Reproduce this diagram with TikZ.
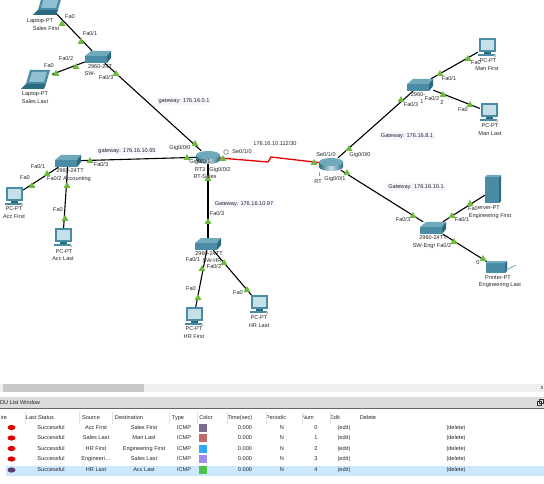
\documentclass[tikz,border=0pt]{standalone}
\usepackage{fontspec}
\setmainfont{Liberation Sans}
\usetikzlibrary{arrows.meta,calc}
\definecolor{tealtop}{HTML}{6FA9BC}
\definecolor{tealfront}{HTML}{4A8CA6}
\definecolor{tealside}{HTML}{2C6A80}
\definecolor{screenblue}{HTML}{C6E0E8}
\definecolor{lapscreen}{HTML}{8FBFD0}
\definecolor{lnkgreen}{HTML}{6DBB3E}
\definecolor{rowblue}{HTML}{CCE8FF}
\definecolor{barmid}{HTML}{DCDCDC}
\definecolor{barlight}{HTML}{F0F0F0}
\definecolor{thumbgray}{HTML}{C8C8C8}
\definecolor{notefill}{HTML}{F6F6FE}

\begin{document}
\begin{tikzpicture}[x=1pt, y=-1pt, >=Stealth, font=\fontsize{5.6}{6.5}\selectfont]

    \def\engcut{Engineeri\ldots}

    \tikzset{
      lbl/.style={inner sep=0pt, text=black!85, text height=4.2pt, text depth=1.2pt},
      note/.style={inner sep=1.5pt, fill=notefill, text=black!85, text height=4.2pt, text depth=1.2pt},
      dev/.style={inner sep=0pt, minimum width=#1, minimum height=12pt},
      link/.style={line width=1.1pt, black},
      serial/.style={line width=1.3pt, red!90!black},
      cell/.style={inner sep=0pt, text=black!85, text height=4.2pt, text depth=1.2pt},
      tri/.pic={\fill[lnkgreen] (-3.5,3) -- (3.5,3) -- (0,-3) -- cycle;},
      switchicon/.pic={
        \fill[tealfront] (-13,-1) -- (9,-1) -- (9,6) -- (-13,6) -- cycle;
        \fill[tealtop] (-13,-1) -- (-7,-6) -- (13,-6) -- (9,-1) -- cycle;
        \fill[tealside] (9,-1) -- (13,-6) -- (13,1) -- (9,6) -- cycle;
      },
      routericon/.pic={
        \shade[left color=tealside, right color=tealside, middle color=screenblue] (-12,-2) -- (-12,3) arc[start angle=180, end angle=360, x radius=12, y radius=-4] -- (12,-2) -- cycle;
        \fill[tealtop] (0,-2) ellipse (12 and 4);
      },
      pcicon/.pic={
        \fill[tealfront] (-8,-9) rectangle (9,5);
        \fill[screenblue] (-6,-7) rectangle (7,3);
        \fill[tealside] (-3,5) rectangle (4,7);
        \fill[tealfront] (-9,7) rectangle (8,9);
        \fill[black!25] (8,9) circle (1.5);
      },
      laptopicon/.pic={
        \fill[tealfront] (-7,-10) -- (13,-10) -- (9,4) -- (-11,4) -- cycle;
        \fill[lapscreen] (-5,-8) -- (10,-8) -- (7,2) -- (-8,2) -- cycle;
        \fill[tealside] (-11,4) -- (9,4) -- (7,9) -- (-16,9) -- cycle;
      },
      servericon/.pic={
        \fill[tealfront] (-8,-13) rectangle (6,13);
        \fill[tealside] (6,-13) -- (8,-15) -- (8,11) -- (6,13) -- cycle;
        \fill[tealtop] (-8,-13) -- (-6,-15) -- (8,-15) -- (6,-13) -- cycle;
      },
      printericon/.pic={
        \fill[tealfront] (-11,-5) rectangle (8,5);
        \fill[tealtop] (-11,-5) -- (-9,-7) -- (10,-7) -- (8,-5) -- cycle;
        \fill[tealside] (8,-5) -- (10,-7) -- (10,3) -- (8,5) -- cycle;
        \draw[tealtop, line width=0.8pt] (9,2) -- (19,-3);
      }
    }

    \useasboundingbox (0,0) rectangle (544,484);

    % 1. device anchors
    \node[dev=30pt] (lapfirst) at (49,6) {};
    \node[dev=30pt] (laplast) at (37,80) {};
    \node[dev=26pt] (swsales) at (98,57) {};
    \node[dev=18pt] (accfirst) at (14,196) {};
    \node[dev=18pt] (acclast) at (63,237) {};
    \node[dev=26pt] (swacc) at (68,161) {};
    \node[dev=24pt] (rtsales) at (208,157) {};
    \node[dev=24pt] (rtmain) at (331,164) {};
    \node[dev=26pt] (swhr) at (208,244) {};
    \node[dev=18pt] (hrfirst) at (194,316) {};
    \node[dev=18pt] (hrlast) at (259,304) {};
    \node[dev=26pt] (swman) at (420,85) {};
    \node[dev=18pt] (manfirst) at (487,47) {};
    \node[dev=18pt] (manlast) at (489,112) {};
    \node[dev=26pt] (sweng) at (433,228) {};
    \node[dev=16pt, minimum height=26pt] (engfirst) at (493,190) {};
    \node[dev=20pt] (englast) at (497,268) {};
    \coordinate (zigl) at (268,162);
    \coordinate (zigr) at (271,157);

    % 2. links
    \draw[link] (lapfirst) -- (swsales);
    \draw[link] (laplast) -- (swsales);
    \draw[link] (swsales) -- (rtsales);
    \draw[link] (accfirst) -- (swacc);
    \draw[link] (acclast) -- (swacc);
    \draw[link] (swacc) -- (rtsales);
    \draw[link] (rtsales) -- (swhr);
    \draw[link] (hrfirst) -- (swhr);
    \draw[link] (hrlast) -- (swhr);
    \draw[serial] (rtsales) -- (zigl) -- (zigr) -- (rtmain);
    \draw[link] (rtmain) -- (swman);
    \draw[link] (manfirst) -- (swman);
    \draw[link] (manlast) -- (swman);
    \draw[link] (rtmain) -- (sweng);
    \draw[link] (engfirst) -- (sweng);
    \draw[link] (englast) -- (sweng);

    % 3. device icons
    \pic at (49,6) {laptopicon};
    \pic at (37,80) {laptopicon};
    \pic at (98,57) {switchicon};
    \pic at (14,196) {pcicon};
    \pic at (63,237) {pcicon};
    \pic at (68,161) {switchicon};
    \pic at (208,157) {routericon};
    \pic at (331,164) {routericon};
    \pic at (208,244) {switchicon};
    \pic at (194,316) {pcicon};
    \pic at (259,304) {pcicon};
    \pic at (420,85) {switchicon};
    \pic at (487,47) {pcicon};
    \pic at (489,112) {pcicon};
    \pic at (433,228) {switchicon};
    \pic at (493,190) {servericon};
    \pic at (497,268) {printericon};

    % 4. link lights
    \foreach \px/\py in {62/23, 81/41, 116/73, 76/66, 56/73, 32/185, 47/173, 67/185, 65/218, 90/160,
      187/157, 195/143, 223/158, 314/162, 208/178, 208/221, 202/268, 198/297, 224/262, 247/289,
      349/148, 401/99, 440/73, 468/58, 443/94, 470/104, 347/172, 413/215, 452/215, 470/203, 454/241, 483/258}
      \pic at (\px,\py) {tri};

    % 5. sales labels
    \node[lbl] (t1) at (40,21) {Laptop-PT};
    \node[lbl] (t2) at (46,29) {Sales First};
    \node[lbl] (t3) at (70,17) {Fa0};
    \node[lbl] (t4) at (90,34) {Fa0/1};
    \node[lbl] (t5) at (66,59) {Fa0/2};
    \node[lbl] (t6) at (49,66) {Fa0};
    \node[lbl] (t7) at (100,67) {2960-24T};
    \node[lbl] (t8) at (90,74) {SW-};
    \node[lbl] (t9) at (106,78) {Fa0/3};
    \node[lbl] (t10) at (35,94) {Laptop-PT};
    \node[lbl] (t11) at (35,102) {Sales Last};
    \node[note] (t12) at (184,101) {gateway: 176.16.0.1};

    % 6. accounting labels
    \node[lbl] (t13) at (38,167) {Fa0/1};
    \node[lbl] (t14) at (25,178) {Fa0};
    \node[lbl] (t15) at (70,171) {2960-24TT};
    \node[lbl] (t16) at (69,179) {Fa0/2 Accounting};
    \node[lbl] (t17) at (101,165) {Fa0/3};
    \node[note] (t18) at (127,151) {gateway: 176.16.10.65};
    \node[lbl] (t19) at (58,210) {Fa0};
    \node[lbl] (t20) at (14,209) {PC-PT};
    \node[lbl] (t21) at (14,217) {Acc First};
    \node[lbl] (t22) at (64,252) {PC-PT};
    \node[lbl] (t23) at (63,259) {Acc Last};

    % 7. router labels
    \node[lbl] (t24) at (180,148) {Gig0/0/0};
    \node[lbl] (t25) at (200,162) {Gig0/0/1};
    \node[lbl] (t26) at (220,170) {Gig0/0/2};
    \node[lbl] (t27) at (242,152) {Se0/1/0};
    \draw[black!70, line width=0.4pt] (226,152) circle (2.3);
    \node[lbl] (t28) at (200,170) {RT3};
    \node[lbl] (t29) at (205,177) {RT-Sales};
    \node[lbl] (t30) at (275,144) {176.16.10.112/30};
    \node[lbl] (t31) at (326,155) {Se0/1/0};
    \node[lbl] (t32) at (360,155) {Gig0/0/0};
    \node[lbl] (t33) at (335,179) {Gig0/0/1};
    \node[lbl] (t34) at (320,175) {I};
    \node[lbl] (t35) at (318,182) {RT};

    % 8. hr labels
    \node[note] (t36) at (244,204) {Gateway: 176.16.10.97};
    \node[lbl] (t37) at (217,214) {Fa0/3};
    \node[lbl] (t38) at (209,254) {2960-24TT};
    \node[lbl] (t39) at (212,261) {SW-HR};
    \node[lbl] (t40) at (193,260) {Fa0/1};
    \node[lbl] (t41) at (214,267) {Fa0/2};
    \node[lbl] (t42) at (191,289) {Fa0};
    \node[lbl] (t43) at (238,293) {Fa0};
    \node[lbl] (t44) at (194,329) {PC-PT};
    \node[lbl] (t45) at (194,337) {HR First};
    \node[lbl] (t46) at (259,318) {PC-PT};
    \node[lbl] (t47) at (259,326) {HR Last};

    % 9. management labels
    \node[lbl] (t48) at (476,63) {Fa0};
    \node[lbl] (t49) at (488,61) {PC-PT};
    \node[lbl] (t50) at (487,69) {Man First};
    \node[lbl] (t51) at (449,79) {Fa0/1};
    \node[lbl] (t52) at (432,99) {Fa0/2};
    \node[lbl] (t53) at (442,103) {2};
    \node[lbl] (t54) at (418,95) {2960-};
    \node[lbl] (t55) at (422,102) {1};
    \node[lbl] (t56) at (411,105) {Fa0/3};
    \node[lbl] (t57) at (463,110) {Fa0};
    \node[lbl] (t58) at (490,126) {PC-PT};
    \node[lbl] (t59) at (490,134) {Man Last};
    \node[note] (t60) at (407,136) {Gateway: 176.16.8.1};

    % 10. engineering labels
    \node[note] (t61) at (416,187) {Gateway: 176.16.10.1};
    \node[lbl] (t62) at (403,220) {Fa0/3};
    \node[lbl] (t63) at (462,220) {Fa0/1};
    \node[lbl] (t64) at (433,238) {2960-24TT};
    \node[lbl] (t65) at (432,246) {SW-Engr Fa0/2};
    \node[lbl] (t66) at (473,209) {Fa0};
    \node[lbl] (t67) at (489,208) {erver-PT};
    \node[lbl] (t68) at (490,216) {Engineering First};
    \node[lbl] (t69) at (478,263) {0};
    \node[lbl] (t70) at (498,278) {Printer-PT};
    \node[lbl] (t71) at (500,285) {Engineering Last};

    % 11. scroll bar and window bar
    \fill[barlight] (0,384) rectangle (544,392);
    \fill[thumbgray] (3,384) rectangle (144,392);
    \fill[barmid] (0,397) rectangle (544,408);
    \draw[black!60, line width=0.4pt] (0,408.5) -- (544,408.5);
    \node[lbl, anchor=west] (t72) at (0,403) {DU List Window};
    \node[lbl] (t73) at (542,388) {x};
    \draw[black!80, line width=0.6pt] (537,401) rectangle (541,405);
    \draw[black!80, line width=0.6pt] (539,399.5) rectangle (543,403);

    % 12. table head
    \node[cell] (h1) at (4,418) {ire};
    \node[cell] (h2) at (40,418) {Last Status};
    \node[cell] (h3) at (91,418) {Source};
    \node[cell] (h4) at (129,418) {Destination};
    \node[cell] (h5) at (178,418) {Type};
    \node[cell] (h6) at (206,418) {Color};
    \node[cell] (h7) at (240,418) {Time(sec)};
    \node[cell] (h8) at (276,418) {Periodic};
    \node[cell] (h9) at (308,418) {Num};
    \node[cell] (h10) at (335,418) {Edit};
    \node[cell] (h11) at (368,418) {Delete};
    \foreach \sx in {25,79,112,169,197,227,266,302,330}
      \draw[black!12, line width=0.4pt] (\sx,412) -- (\sx,424);

    % 13. table rows
    \fill[rowblue] (6,466) rectangle (544,476);
    \foreach \i/\ry/\src/\dst/\col/\num/\lamp in {
      1/427.5/Acc First/Sales First/7D6B93/0/E00000,
      2/438/Sales Last/Man Last/C06A6A/1/E00000,
      3/448.5/HR First/Engineering First/33A9F5/2/E00000,
      4/459/\engcut/Sales Last/9A8CF0/3/E00000,
      5/470/HR Last/Acc Last/4FC24A/4/5A3A70} {
      \definecolor{rowcol}{HTML}{\col}
      \definecolor{lampcol}{HTML}{\lamp}
      \fill[lampcol] (11.5,\ry) ellipse (4 and 2.6);
      \fill[rowcol] (199,\ry-4) rectangle (207,\ry+4);
      \node[cell] (st\i) at (51,\ry) {Successful};
      \node[cell] (sr\i) at (96,\ry) {\src};
      \node[cell] (ds\i) at (144,\ry) {\dst};
      \node[cell] (ty\i) at (184,\ry) {ICMP};
      \node[cell] (tm\i) at (245,\ry) {0.000};
      \node[cell] (pe\i) at (282,\ry) {N};
      \node[cell] (nu\i) at (316,\ry) {\num};
      \node[cell] (ed\i) at (344,\ry) {(edit)};
      \node[cell] (de\i) at (456,\ry) {(delete)};
    }

\end{tikzpicture}
\end{document}
